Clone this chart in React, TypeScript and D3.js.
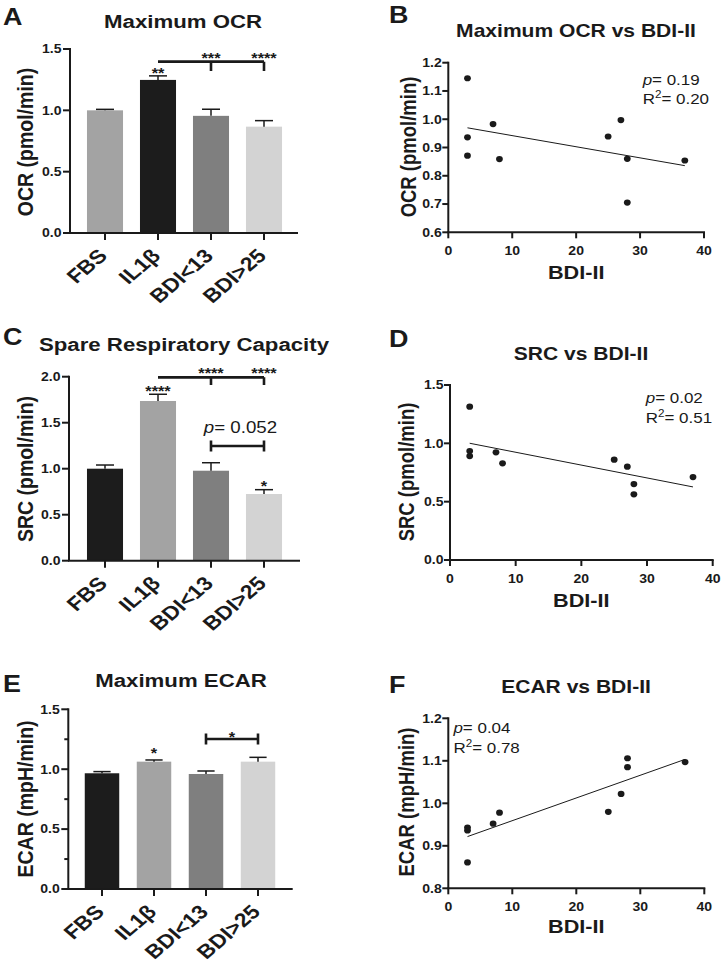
import React from 'react';
import * as d3 from 'd3';

const groups = ['FBS', 'IL1β', 'BDI<13', 'BDI>25'];

// Maximum OCR normalised to FBS (mean, SEM)
const ocrMean = [1.0, 1.248, 0.955, 0.867];
const ocrSem = [0.008, 0.033, 0.054, 0.049];
// Spare respiratory capacity
const srcMean = [1.0, 1.736, 0.978, 0.725];
const srcSem = [0.04, 0.073, 0.087, 0.047];
// Maximum ECAR
const ecarMean = [0.966, 1.063, 0.96, 1.063];
const ecarSem = [0.014, 0.014, 0.025, 0.036];

const ocrFills = ['#a3a3a3', '#1c1c1c', '#7f7f7f', '#d3d3d3'];
const otherFills = ['#1c1c1c', '#a3a3a3', '#7f7f7f', '#d3d3d3'];

// per-donor values against BDI-II score
const bdi = [3, 3, 3, 7, 8, 25, 27, 28, 28, 37];
const ocrDonor = [1.145, 0.936, 0.871, 0.983, 0.859, 0.939, 0.997, 0.86, 0.705, 0.854];
const srcDonor = [1.314, 0.934, 0.891, 0.923, 0.829, 0.86, 0.8, 0.651, 0.563, 0.711];
const ecarDonor = [0.943, 0.936, 0.861, 0.952, 0.978, 0.98, 1.022, 1.106, 1.085, 1.097];

const SX = 1.17; // figure is a bit wider than tall, text too
const FONT = '"Liberation Sans", Arial, Helvetica, sans-serif';
const INK = '#1a1a1a';

const tf = (x: number, y: number, rot = 0) =>
  `translate(${x},${y}) scale(${SX},1)${rot ? ` rotate(${rot})` : ''}`;

const Txt = ({ x, y, rot = 0, size, weight = 'bold', anchor = 'middle', children }: any) => (
  <text
    transform={tf(x, y, rot)}
    fontSize={size}
    fontWeight={weight}
    textAnchor={anchor}
    fill={INK}
    fontFamily={FONT}
  >
    {children}
  </text>
);

// `at` may sit between two groups (e.g. 2.5)
type Sig =
  | { kind: 'stars'; text: string; at: number; level: number }
  | { kind: 'span'; from: number; to: number; level: number; drops: { at: number; level: number }[] }
  | { kind: 'capped'; from: number; to: number; level: number }
  | { kind: 'p'; text: string; from: number; to: number; level: number };

interface BarProps {
  letter: string; letterX: number; letterY: number;
  title: string; titleX: number; titleY: number;
  yLabel: string; yLabelX: number; yLabelY: number;
  x0: number; x1: number; yTop: number; yBottom: number;
  band: [number, number]; pad: number;
  yMax: number; minor?: boolean;
  mean: number[]; sem: number[]; fills: string[];
  sigs: Sig[];
}

const BarPanel = (p: BarProps) => {
  const x = d3.scaleBand<string>().domain(groups).range(p.band).paddingInner(p.pad).paddingOuter(p.pad / 2);
  const y = d3.scaleLinear().domain([0, p.yMax]).range([p.yBottom, p.yTop]);
  const bw = x.bandwidth();
  const cx = (t: number) => {
    const i = Math.floor(t);
    const c = x(groups[i])! + bw / 2;
    return t === i ? c : c + (t - i) * x.step();
  };
  const majors = d3.range(0, Math.round(p.yMax / 0.5) + 1).map(i => i * 0.5);
  const minors = p.minor ? majors.slice(1).map(v => v - 0.25) : [];

  return (
    <g>
      <Txt x={p.letterX} y={p.letterY} size={23} anchor="start">{p.letter}</Txt>
      <Txt x={p.titleX} y={p.titleY} size={19}>{p.title}</Txt>
      <Txt x={p.yLabelX} y={p.yLabelY} size={19.5} rot={-90}>{p.yLabel}</Txt>

      {p.mean.map((m, i) => (
        <g key={i}>
          <rect x={x(groups[i])} y={y(m)} width={bw} height={y(0) - y(m)} fill={p.fills[i]} />
          <line x1={cx(i)} x2={cx(i)} y1={y(m)} y2={y(m + p.sem[i])} stroke={INK} strokeWidth={1.5} />
          <line x1={cx(i) - bw / 4} x2={cx(i) + bw / 4} y1={y(m + p.sem[i])} y2={y(m + p.sem[i])} stroke={INK} strokeWidth={1.5} />
        </g>
      ))}

      {/* axes */}
      <line x1={p.x0} x2={p.x0} y1={y(0)} y2={y(p.yMax) - 1} stroke={INK} strokeWidth={2} />
      <line x1={p.x0 - 1} x2={p.x1} y1={y(0)} y2={y(0)} stroke={INK} strokeWidth={2} />
      {majors.map(v => (
        <g key={v}>
          <line x1={p.x0 - 7} x2={p.x0} y1={y(v)} y2={y(v)} stroke={INK} strokeWidth={2} />
          <Txt x={p.x0 - 8.5} y={y(v) + 4.3} size={12} anchor="end">{d3.format('.1f')(v)}</Txt>
        </g>
      ))}
      {minors.map(v => (
        <line key={v} x1={p.x0 - 4} x2={p.x0} y1={y(v)} y2={y(v)} stroke={INK} strokeWidth={2} />
      ))}
      {groups.map((g, i) => (
        <g key={g}>
          <line x1={cx(i)} x2={cx(i)} y1={y(0)} y2={y(0) + 7} stroke={INK} strokeWidth={2} />
          <Txt x={cx(i) + 3.5} y={y(0) + 24} size={19.5} rot={-45} anchor="end">{g}</Txt>
        </g>
      ))}

      {p.sigs.map((s, k) => {
        if (s.kind === 'stars')
          return <Txt key={k} x={cx(s.at)} y={y(s.level) + 8} size={14}>{s.text}</Txt>;
        if (s.kind === 'span')
          return (
            <path
              key={k}
              d={`M${cx(s.from)},${y(s.level)}H${cx(s.to)}` +
                s.drops.map(d => `M${cx(d.at)},${y(s.level)}V${y(d.level)}`).join('')}
              fill="none" stroke={INK} strokeWidth={2.6}
            />
          );
        if (s.kind === 'capped') {
          const a = cx(s.from), b = cx(s.to), yy = y(s.level);
          return (
            <path key={k} d={`M${a},${yy}H${b}M${a},${yy - 5.5}V${yy + 5.5}M${b},${yy - 5.5}V${yy + 5.5}`}
              fill="none" stroke={INK} strokeWidth={2.6} />
          );
        }
        return (
          <text key={k} transform={tf((cx(s.from) + cx(s.to)) / 2 + 3, y(s.level))} fontSize={16}
            textAnchor="middle" fill={INK} fontFamily={FONT}>
            <tspan fontStyle="italic">p</tspan>{s.text}
          </text>
        );
      })}
    </g>
  );
};

interface ScatterProps {
  letter: string; letterX: number; letterY: number;
  title: string; titleX: number; titleY: number;
  yLabel: string; yLabelX: number; yLabelY: number; xLabelY: number;
  xa: number; xb: number; yTop: number; yBottom: number;
  yMin: number; yMax: number; yStep: number;
  values: number[];
  pText: string; r2Text: string; statX: number; statY: [number, number];
}

const ScatterPanel = (p: ScatterProps) => {
  const x = d3.scaleLinear().domain([0, 40]).range([p.xa, p.xb]);
  const y = d3.scaleLinear().domain([p.yMin, p.yMax]).range([p.yBottom, p.yTop]);
  const yTicks = d3.range(0, Math.round((p.yMax - p.yMin) / p.yStep) + 1).map(i => p.yMin + i * p.yStep);
  const xTicks = [0, 10, 20, 30, 40];

  // least-squares fit
  const mx = d3.mean(bdi)!;
  const my = d3.mean(p.values)!;
  const sxy = d3.sum(bdi, (v, i) => (v - mx) * (p.values[i] - my));
  const sxx = d3.sum(bdi, v => (v - mx) ** 2);
  const slope = sxy / sxx;
  const icpt = my - slope * mx;
  const [lo, hi] = d3.extent(bdi) as [number, number];
  const fit = d3.line<number>().x(v => x(v)).y(v => y(icpt + slope * v))([lo, hi])!;
  const xMid = (p.xa + p.xb) / 2;

  return (
    <g>
      <Txt x={p.letterX} y={p.letterY} size={23} anchor="start">{p.letter}</Txt>
      <Txt x={p.titleX} y={p.titleY} size={18}>{p.title}</Txt>
      <Txt x={p.yLabelX} y={p.yLabelY} size={18.5} rot={-90}>{p.yLabel}</Txt>
      <Txt x={xMid} y={p.xLabelY} size={18.5}>BDI-II</Txt>

      <line x1={p.xa} x2={p.xa} y1={p.yBottom} y2={p.yTop - 1} stroke={INK} strokeWidth={2} />
      <line x1={p.xa - 1} x2={p.xb + 1} y1={p.yBottom} y2={p.yBottom} stroke={INK} strokeWidth={2} />
      {yTicks.map(v => (
        <g key={v}>
          <line x1={p.xa - 6} x2={p.xa} y1={y(v)} y2={y(v)} stroke={INK} strokeWidth={2} />
          <Txt x={p.xa - 6.5} y={y(v) + 4.3} size={12} anchor="end">{d3.format('.1f')(v)}</Txt>
        </g>
      ))}
      {xTicks.map(v => (
        <g key={v}>
          <line x1={x(v)} x2={x(v)} y1={p.yBottom} y2={p.yBottom + 6} stroke={INK} strokeWidth={2} />
          <Txt x={x(v)} y={p.yBottom + 22.5} size={12}>{v}</Txt>
        </g>
      ))}

      <path d={fit} fill="none" stroke={INK} strokeWidth={1} />
      {p.values.map((v, i) => (
        <ellipse key={i} cx={x(bdi[i])} cy={y(v)} rx={3.4} ry={3.1} fill={INK} />
      ))}

      <text transform={tf(x(p.statX), y(p.statY[0]))} fontSize={14.5} fill={INK} fontFamily={FONT}>
        <tspan fontStyle="italic">p</tspan>= {p.pText}
      </text>
      <text transform={tf(x(p.statX), y(p.statY[1]))} fontSize={14.5} fill={INK} fontFamily={FONT}>
        R<tspan fontSize={10} dy={-6}>2</tspan><tspan dy={6}>= {p.r2Text}</tspan>
      </text>
    </g>
  );
};

export default function App() {
  return (
    <svg width={722} height={966} style={{ position: 'absolute', left: 0, top: 0, background: '#fff' }}>
      <BarPanel
        letter="A" letterX={3} letterY={25}
        title="Maximum OCR" titleX={183} titleY={28}
        yLabel="OCR (pmol/min)" yLabelX={33} yLabelY={142}
        x0={70} x1={298} yTop={49} yBottom={233}
        band={[78.5, 290.5]} pad={0.32} yMax={1.5}
        mean={ocrMean} sem={ocrSem} fills={ocrFills}
        sigs={[
          { kind: 'stars', text: '**', at: 1, level: 1.33 },
          { kind: 'span', from: 1, to: 3, level: 1.397, drops: [{ at: 2, level: 1.32 }, { at: 3, level: 1.32 }] },
          { kind: 'stars', text: '***', at: 2, level: 1.45 },
          { kind: 'stars', text: '****', at: 3, level: 1.45 },
        ]}
      />
      <ScatterPanel
        letter="B" letterX={389} letterY={23}
        title="Maximum OCR vs BDI-II" titleX={576} titleY={37}
        yLabel="OCR (pmol/min)" yLabelX={416} yLabelY={147} xLabelY={279}
        xa={448.3} xb={704} yTop={62.7} yBottom={232.3}
        yMin={0.6} yMax={1.2} yStep={0.1}
        values={ocrDonor}
        pText="0.19" r2Text="0.20" statX={30.4} statY={[1.121, 1.053]}
      />
      <BarPanel
        letter="C" letterX={3} letterY={345}
        title="Spare Respiratory Capacity" titleX={184} titleY={351}
        yLabel="SRC (pmol/min)" yLabelX={33} yLabelY={469}
        x0={69} x1={300} yTop={376.7} yBottom={560.7}
        band={[78.5, 290.5]} pad={0.32} yMax={2}
        mean={srcMean} sem={srcSem} fills={otherFills}
        sigs={[
          { kind: 'stars', text: '****', at: 1, level: 1.88 },
          { kind: 'span', from: 1, to: 3, level: 1.993, drops: [{ at: 2, level: 1.91 }, { at: 3, level: 1.91 }] },
          { kind: 'stars', text: '****', at: 2, level: 2.07 },
          { kind: 'stars', text: '****', at: 3, level: 2.07 },
          { kind: 'p', text: '= 0.052', from: 2, to: 3, level: 1.386 },
          { kind: 'capped', from: 2, to: 3, level: 1.247 },
          { kind: 'stars', text: '*', at: 3, level: 0.84 },
        ]}
      />
      <ScatterPanel
        letter="D" letterX={389} letterY={347}
        title="SRC vs BDI-II" titleX={581} titleY={360}
        yLabel="SRC (pmol/min)" yLabelX={414} yLabelY={472} xLabelY={607}
        xa={450} xb={712.7} yTop={385} yBottom={560}
        yMin={0} yMax={1.5} yStep={0.5}
        values={srcDonor}
        pText="0.02" r2Text="0.51" statX={29.8} statY={[1.343, 1.171]}
      />
      <BarPanel
        letter="E" letterX={3} letterY={692}
        title="Maximum ECAR" titleX={181} titleY={687}
        yLabel="ECAR (mpH/min)" yLabelX={33} yLabelY={799}
        x0={68.3} x1={292.7} yTop={709.3} yBottom={889}
        band={[76, 284]} pad={0.337} yMax={1.5} minor
        mean={ecarMean} sem={ecarSem} fills={otherFills}
        sigs={[
          { kind: 'stars', text: '*', at: 1, level: 1.16 },
          { kind: 'capped', from: 2, to: 3, level: 1.252 },
          { kind: 'stars', text: '*', at: 2.5, level: 1.29 },
        ]}
      />
      <ScatterPanel
        letter="F" letterX={389} letterY={693}
        title="ECAR vs BDI-II" titleX={576} titleY={693}
        yLabel="ECAR (mpH/min)" yLabelX={414} yLabelY={802} xLabelY={933}
        xa={448.3} xb={704.3} yTop={718.3} yBottom={888.3}
        yMin={0.8} yMax={1.2} yStep={0.1}
        values={ecarDonor}
        pText="0.04" r2Text="0.78" statX={0.8} statY={[1.165, 1.118]}
      />
    </svg>
  );
}
